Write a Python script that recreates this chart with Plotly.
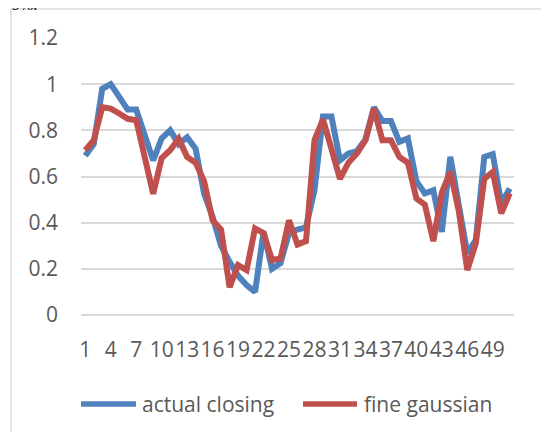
import plotly.graph_objects as go

x_vals = list(range(1, 52))
actual_closing = [0.69, 0.74, 0.98, 1.0, 0.945, 0.89, 0.89, 0.77, 0.67, 0.765,
                  0.80, 0.74, 0.77, 0.72, 0.525, 0.425, 0.30, 0.23, 0.17, 0.13,
                  0.10, 0.36, 0.20, 0.225, 0.355, 0.37, 0.38, 0.54, 0.86, 0.86,
                  0.67, 0.70, 0.71, 0.76, 0.90, 0.84, 0.84, 0.75, 0.765, 0.58,
                  0.527, 0.54, 0.36, 0.685, 0.475, 0.267, 0.325, 0.685, 0.697, 0.483,
                  0.548]
fine_gaussian = [0.714, 0.757, 0.90, 0.894, 0.873, 0.85, 0.844, 0.685, 0.525, 0.68,
                 0.714, 0.764, 0.685, 0.66, 0.58, 0.41, 0.37, 0.12, 0.216, 0.195,
                 0.375, 0.355, 0.238, 0.245, 0.41, 0.305, 0.32, 0.757, 0.848, 0.72,
                 0.59, 0.66, 0.70, 0.757, 0.894, 0.757, 0.757, 0.685, 0.66, 0.505,
                 0.478, 0.32, 0.53, 0.62, 0.45, 0.195, 0.31, 0.59, 0.62, 0.44,
                 0.527]
x_ticks = list(range(1, 52, 3))
series_names = ["actual closing", "fine gaussian"]
colors = ["#4F81BD", "#C0504D"]

OFF = 8  # page body margin offset
W, H = 549 - OFF, 432 - OFF
L, R, T, B = 81 - OFF, 514 - OFF, 38 - OFF, 315 - OFF
pw, ph = R - L, B - T


def px(xp):
    return (xp - OFF - L) / pw


def py(yp):
    return (B - (yp - OFF)) / ph


FONT = "Open Sans"
TXT = "#595959"

fig = go.Figure()
for name, ys, c in zip(series_names, [actual_closing, fine_gaussian], colors):
    fig.add_trace(go.Scatter(x=x_vals, y=ys, mode="lines", name=name,
                             line=dict(color=c, width=6), showlegend=False))

shapes = [
    dict(type="line", xref="paper", yref="paper", x0=px(11), x1=px(11), y0=py(9), y1=py(445),
         line=dict(color="#d9d9d9", width=1.5)),
    dict(type="line", xref="paper", yref="paper", x0=px(11), x1=px(560), y0=py(9), y1=py(9),
         line=dict(color="#d9d9d9", width=1.5)),
]
annotations = []
leg = [(81, 136, 140), (303, 357, 362)]
for (x0, x1, tx), name, c in zip(leg, series_names, colors):
    shapes.append(dict(type="line", xref="paper", yref="paper", x0=px(x0), x1=px(x1),
                       y0=py(404), y1=py(404), line=dict(color=c, width=5.5)))
    annotations.append(dict(xref="paper", yref="paper", x=px(tx), y=py(404), text=name,
                            showarrow=False, xanchor="left", yanchor="middle",
                            font=dict(family=FONT, size=21, color=TXT)))
annotations.append(dict(xref="paper", yref="paper", x=px(10), y=py(15), text="9%.",
                        showarrow=False, xanchor="left", yanchor="bottom",
                        font=dict(family="Liberation Serif", size=16, color="#000000")))

fig.update_layout(
    width=W, height=H,
    margin=dict(l=L, r=W - R, t=T, b=H - B, pad=0),
    paper_bgcolor="white", plot_bgcolor="white",
    font=dict(family=FONT, size=21, color=TXT),
    shapes=shapes, annotations=annotations,
    xaxis=dict(range=[0.5, 51.5], tickmode="array", tickvals=x_ticks,
               ticktext=[str(t) for t in x_ticks], showgrid=False, zeroline=False,
               showline=False, ticks="", tickangle=0, ticklabelstandoff=20,
               tickfont=dict(family=FONT, size=21, color=TXT)),
    yaxis=dict(range=[0, 1.2], dtick=0.2, tick0=0, showgrid=True, gridcolor="#d9d9d9",
               gridwidth=1.5, zeroline=True, zerolinecolor="#d9d9d9", zerolinewidth=1.5,
               showline=False, ticks="", ticklabelstandoff=22,
               tickfont=dict(family=FONT, size=21, color=TXT)),
)

fig.write_html("out.html")
